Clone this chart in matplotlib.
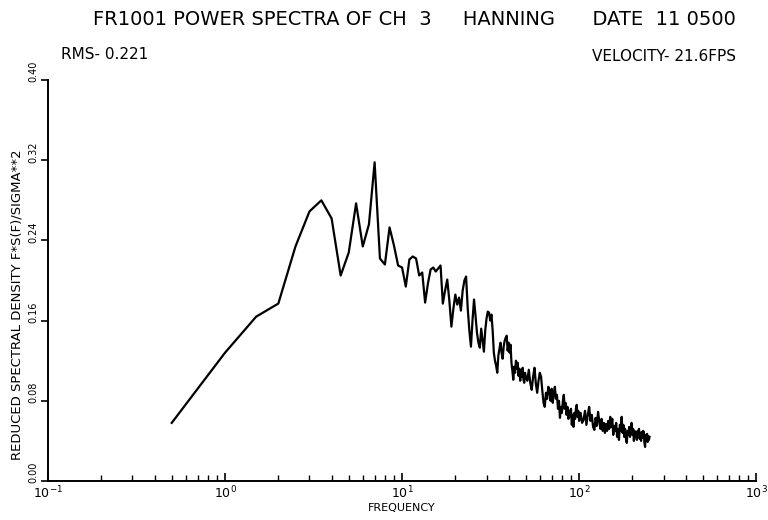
import numpy as np
import matplotlib
matplotlib.use("Agg")
import matplotlib.pyplot as plt
import matplotlib.transforms as mtransforms
from matplotlib.ticker import LogLocator, FixedLocator

# 低周波側 (0.5 Hz 刻み, 0.5-18 Hz)
freq_low = np.arange(0.5, 18.01, 0.5)
rsd_low = [0.058, 0.128, 0.164, 0.177, 0.234, 0.269, 0.280, 0.262, 0.205, 0.228,
           0.277, 0.234, 0.256, 0.318, 0.222, 0.216, 0.253, 0.235, 0.215, 0.213,
           0.194, 0.221, 0.224, 0.222, 0.205, 0.208, 0.178, 0.197, 0.211, 0.213,
           0.209, 0.212, 0.215, 0.177, 0.190, 0.201]

# 18.5-50 Hz (0.5 Hz 刻み)
freq_mid = np.arange(18.5, 50.01, 0.5)
rsd_mid = [0.180, 0.154, 0.172, 0.186, 0.176, 0.183, 0.170, 0.190, 0.200, 0.204,
           0.172, 0.150, 0.134, 0.160, 0.181, 0.165, 0.148, 0.138, 0.133, 0.152,
           0.140, 0.129, 0.150, 0.162, 0.169, 0.168, 0.160, 0.166, 0.150, 0.128,
           0.120, 0.115, 0.108, 0.125, 0.132, 0.138, 0.128, 0.122, 0.134, 0.140,
           0.143, 0.145, 0.130, 0.138, 0.128, 0.136, 0.118, 0.110, 0.101, 0.114,
           0.108, 0.120, 0.112, 0.118, 0.105, 0.112, 0.100, 0.110, 0.104, 0.113,
           0.101, 0.098, 0.108, 0.104]

# 51-100 Hz (1 Hz 刻み)
freq_high = np.arange(51, 100.5, 1)
rsd_high = [0.100, 0.111, 0.098, 0.091, 0.104, 0.113, 0.097, 0.088, 0.100, 0.108,
            0.104, 0.090, 0.078, 0.074, 0.088, 0.082, 0.094, 0.090, 0.080, 0.092,
            0.078, 0.088, 0.094, 0.082, 0.086, 0.072, 0.080, 0.063, 0.074, 0.068,
            0.080, 0.086, 0.072, 0.078, 0.066, 0.074, 0.062, 0.070, 0.064, 0.072,
            0.056, 0.066, 0.054, 0.068, 0.062, 0.072, 0.076, 0.064, 0.070, 0.060]

# 102-250 Hz (2 Hz 刻み)
freq_top = np.arange(102, 250.5, 2)
rsd_top = [0.068, 0.058, 0.061, 0.070, 0.056, 0.066, 0.074, 0.060, 0.066, 0.054,
           0.051, 0.063, 0.055, 0.069, 0.060, 0.052, 0.062, 0.050, 0.058, 0.048,
           0.057, 0.050, 0.060, 0.052, 0.064, 0.054, 0.062, 0.046, 0.055, 0.050,
           0.058, 0.044, 0.052, 0.041, 0.056, 0.050, 0.064, 0.048, 0.056, 0.044,
           0.052, 0.042, 0.038, 0.050, 0.046, 0.054, 0.044, 0.052, 0.058, 0.046,
           0.052, 0.040, 0.050, 0.044, 0.048, 0.041, 0.050, 0.044, 0.052, 0.042,
           0.048, 0.040, 0.049, 0.043, 0.050, 0.049, 0.038, 0.034, 0.046, 0.040,
           0.047, 0.039, 0.045, 0.041, 0.044]

yticks = [0.00, 0.08, 0.16, 0.24, 0.32, 0.40]

freq = np.concatenate([freq_low, freq_mid, freq_high, freq_top])
rsd = np.concatenate([rsd_low, rsd_mid, rsd_high, rsd_top])

fig = plt.figure(figsize=(7.68, 5.2), dpi=100)
ax = fig.add_axes([0.0625, 0.075, 0.922, 0.771])

ax.plot(freq, rsd, color="black", linewidth=1.6)

ax.set_xscale("log")
ax.set_xlim(0.1, 1000)
ax.set_ylim(0.0, 0.40)

ax.spines["top"].set_visible(False)
ax.spines["right"].set_visible(False)
ax.spines["left"].set_linewidth(1.4)
ax.spines["bottom"].set_linewidth(1.4)

ax.xaxis.set_major_locator(LogLocator(base=10, numticks=10))
ax.xaxis.set_minor_locator(LogLocator(base=10, subs=np.arange(2, 10), numticks=10))
ax.tick_params(axis="x", which="both", direction="in", labelsize=9, pad=3)
ax.tick_params(axis="x", which="major", length=6, width=1.2)
ax.tick_params(axis="x", which="minor", length=4, width=1.0)

ax.yaxis.set_major_locator(FixedLocator(yticks))
ax.set_yticklabels(["%.2f" % v for v in yticks], rotation=90, va="center", fontsize=7)
ax.tick_params(axis="y", which="major", direction="out", length=5, width=1.2, pad=2)
# ラベルを少し上にずらす
shift = mtransforms.ScaledTranslation(0, 6 / 72, fig.dpi_scale_trans)
for lab in ax.get_yticklabels():
    lab.set_transform(lab.get_transform() + shift)

ax.set_xlabel("FREQUENCY", fontsize=8, labelpad=1)
ax.set_ylabel("REDUCED SPECTRAL DENSITY F*S(F)/SIGMA**2", fontsize=9.5)
ax.yaxis.set_label_coords(-0.034, 0.44)

fig.text(0.540, 0.962, "FR1001 POWER SPECTRA OF CH  3     HANNING      DATE  11 0500",
         ha="center", va="center", fontsize=14)
fig.text(0.080, 0.895, "RMS- 0.221", ha="left", va="center", fontsize=11)
fig.text(0.958, 0.892, "VELOCITY- 21.6FPS", ha="right", va="center", fontsize=11)

fig.savefig("out.png", dpi=100)
